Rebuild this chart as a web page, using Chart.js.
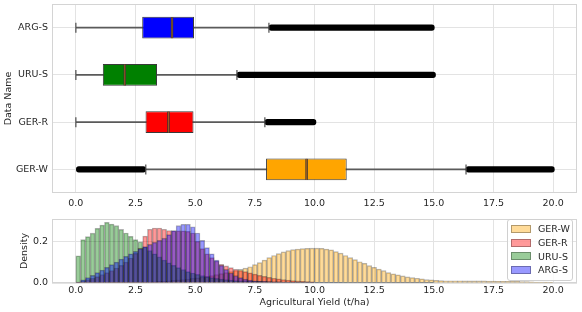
<!DOCTYPE html>
<html lang="en">
<head>
<meta charset="utf-8">
<title>Agricultural yield</title>
<script src="https://cdn.jsdelivr.net/npm/chart.js@4.4.1/dist/chart.umd.min.js"></script>
<style>
  html, body { margin: 0; padding: 0; background: #fff; }
  #wrap { position: relative; width: 582px; height: 312px; }
  #box-chart { position: absolute; left: 0; top: 0; }
  #hist-chart { position: absolute; left: 0; top: 212px; }
  #legend {
    position: absolute; left: 507px; top: 219px; width: 66px; height: 62px;
    border: 1px solid #d0d0d0; border-radius: 3px; background: rgba(255,255,255,0.8);
    font: 9.5px 'DejaVu Sans', sans-serif; color: #262626; padding-top: 2px; box-sizing: border-box;
    white-space: nowrap;
  }
  #legend .item { display: flex; align-items: center; height: 13.7px; }
  #legend .swatch { flex: none; width: 18px; height: 6px; margin: 0 7px 0 3px; border: 1px solid rgba(0,0,0,0.3); }
</style>
</head>
<body>
<div id="wrap">
  <canvas id="box-chart" width="582" height="212"></canvas>
  <canvas id="hist-chart" width="582" height="100"></canvas>
  <div id="legend"></div>
</div>
<script>
"use strict";

// x axis ticks shared by both panels
const xTicks = [0, 2.5, 5, 7.5, 10, 12.5, 15, 17.5, 20];
const densityTicks = [0, 0.2];

// boxplot summary, top to bottom
const names = ['ARG-S', 'URU-S', 'GER-R', 'GER-W'];
const q1 = [2.78, 1.13, 2.92, 7.97];
const median = [4.03, 2.05, 3.88, 9.67];
const q3 = [4.95, 3.40, 4.93, 11.35];
const whiskLo = [0, 0, 0, 2.93];
const whiskHi = [8.09, 6.75, 7.92, 16.35];
const flierLoMin = [null, null, null, 0];
const flierHiMax = [15.02, 15.07, 10.06, 20.05];
const boxColors = ['#0000ff', '#008000', '#ff0000', '#ffa500'];

// histogram densities, bins of 0.2 starting at 0
const binWidth = 0.2;
const gerW = [
  0.003, 0.002, 0.002, 0.002, 0.002, 0.002, 0.002, 0.003, 0.003, 0.003, 0.003, 0.003, 0.004, 0.004, 0.004,
  0.005, 0.006, 0.008, 0.009, 0.011, 0.013, 0.015, 0.017, 0.019, 0.022, 0.025, 0.028, 0.032, 0.036, 0.040,
  0.045, 0.050, 0.055, 0.060, 0.065, 0.071, 0.078, 0.088, 0.098, 0.110,
  0.122, 0.132, 0.141, 0.149, 0.155, 0.160, 0.163, 0.165, 0.166, 0.167,
  0.167, 0.166, 0.163, 0.159, 0.151, 0.143, 0.132, 0.122, 0.112, 0.102,
  0.094, 0.083, 0.075, 0.067, 0.059, 0.050, 0.044, 0.039, 0.034, 0.029,
  0.026, 0.023, 0.020, 0.016, 0.015, 0.013, 0.012, 0.011, 0.011, 0.011,
  0.011, 0.010, 0.010, 0.010, 0.010, 0.010, 0.009, 0.009, 0.008, 0.008,
  0.008, 0.008, 0.008, 0.007, 0.007, 0.006, 0.005, 0.005, 0.004, 0.003
];
const gerR = [
  0.005, 0.010, 0.016, 0.023, 0.031, 0.040, 0.050, 0.060, 0.072, 0.085,
  0.100, 0.120, 0.142, 0.168, 0.225, 0.258, 0.264, 0.264, 0.258, 0.252,
  0.250, 0.250, 0.250, 0.248, 0.240, 0.200, 0.165, 0.140, 0.122, 0.105,
  0.090, 0.082, 0.074, 0.066, 0.060, 0.055, 0.049, 0.043, 0.037, 0.032,
  0.027, 0.023, 0.020, 0.017, 0.014, 0.012, 0.010, 0.008, 0.007, 0.006
];
const uruS = [
  0.130, 0.208, 0.223, 0.239, 0.262, 0.278, 0.291, 0.283, 0.275, 0.257,
  0.240, 0.224, 0.208, 0.197, 0.172, 0.155, 0.140, 0.125, 0.110, 0.097,
  0.085, 0.074, 0.064, 0.055, 0.048, 0.041, 0.035, 0.030, 0.026, 0.022,
  0.019, 0.016, 0.014, 0.012, 0.011, 0.010, 0.009, 0.008, 0.008, 0.007,
  0.007, 0.006, 0.006, 0.005, 0.005, 0.005, 0.004, 0.004, 0.004, 0.004,
  0.003, 0.003, 0.003, 0.003, 0.003, 0.003, 0.003, 0.002, 0.002, 0.002,
  0.002, 0.002, 0.002, 0.002, 0.002, 0.002, 0.002, 0.002, 0.002, 0.002,
  0.002, 0.002, 0.002, 0.002, 0.003
];
const argS = [
  0.005, 0.015, 0.026, 0.037, 0.050, 0.062, 0.075, 0.088, 0.100, 0.115,
  0.128, 0.140, 0.152, 0.165, 0.175, 0.185, 0.195, 0.205, 0.215, 0.232,
  0.252, 0.275, 0.282, 0.282, 0.270, 0.240, 0.205, 0.170, 0.140, 0.110,
  0.085, 0.065, 0.048, 0.035, 0.026, 0.019, 0.014, 0.011, 0.009, 0.008,
  0.007, 0.006, 0.006, 0.005, 0.005, 0.004, 0.004, 0.004, 0.004, 0.003,
  0.003, 0.003, 0.003, 0.003, 0.003, 0.003, 0.002, 0.002, 0.002, 0.002,
  0.002, 0.002, 0.002, 0.002, 0.002, 0.002, 0.002, 0.002, 0.002, 0.002,
  0.002, 0.002, 0.002, 0.002, 0.002
];

// legend order = draw order bottom to top
const histSeries = [
  { label: 'GER-W', values: gerW, color: 'rgba(255,165,0,0.4)' },
  { label: 'GER-R', values: gerR, color: 'rgba(255,0,0,0.4)' },
  { label: 'URU-S', values: uruS, color: 'rgba(0,128,0,0.4)' },
  { label: 'ARG-S', values: argS, color: 'rgba(0,0,255,0.4)' }
];

Chart.defaults.font = { family: "'DejaVu Sans', sans-serif", size: 9.5 };
Chart.defaults.color = '#262626';

const gridColor = '#e3e3e3';

// light frame round the plot area
const frame = {
  id: 'frame',
  beforeDatasetsDraw(chart) {
    const { ctx, chartArea: a } = chart;
    ctx.save();
    ctx.strokeStyle = '#d4d4d4';
    ctx.lineWidth = 1;
    ctx.strokeRect(Math.round(a.left) + 0.5, Math.round(a.top) + 0.5, Math.round(a.width) - 1, Math.round(a.height) - 1);
    ctx.restore();
  }
};

function fixedTicks(list) {
  return scale => { scale.ticks = list.map(v => ({ value: v })); };
}

// y axis: fixed width, no extra room for half labels
function fixedYAxis(width) {
  return s => { s.width = width; s.paddingTop = 0; s.paddingBottom = 0; };
}

// top panel: horizontal boxplots
new Chart(document.getElementById('box-chart'), {
  type: 'bar',
  data: {
    labels: names,
    datasets: [
      {
        type: 'scatter', label: 'caps',
        data: names.flatMap((n, i) => [{ x: whiskLo[i], y: n }, { x: whiskHi[i], y: n }]),
        pointStyle: 'line', rotation: 90, radius: 5, borderColor: '#4d4d4d', borderWidth: 1.2,
        order: 0
      },
      {
        label: 'fliers low',
        data: names.map((n, i) => flierLoMin[i] == null ? null : [flierLoMin[i], whiskLo[i]]),
        backgroundColor: '#000', barThickness: 5.5, borderRadius: 3, borderSkipped: false,
        grouped: false, order: 1
      },
      {
        label: 'fliers high',
        data: names.map((n, i) => [whiskHi[i], flierHiMax[i]]),
        backgroundColor: '#000', barThickness: 5.5, borderRadius: 3, borderSkipped: false,
        grouped: false, order: 1
      },
      {
        type: 'scatter', label: 'median accent',
        data: names.map((n, i) => ({ x: median[i], y: n })),
        pointStyle: 'line', rotation: 90, radius: 10.5, borderColor: 'rgba(255,127,14,0.55)', borderWidth: 1,
        order: 2
      },
      {
        type: 'scatter', label: 'median',
        data: names.map((n, i) => ({ x: median[i], y: n })),
        pointStyle: 'line', rotation: 90, radius: 10.5, borderColor: '#333', borderWidth: 2.4,
        order: 3
      },
      {
        label: 'box',
        data: names.map((n, i) => [q1[i], q3[i]]),
        backgroundColor: boxColors, borderColor: '#3a3a3a', borderWidth: 1, borderSkipped: false,
        barPercentage: 0.46, categoryPercentage: 1, grouped: false, order: 4
      },
      {
        label: 'whisker',
        data: names.map((n, i) => [whiskLo[i], whiskHi[i]]),
        backgroundColor: '#5a5a5a', barThickness: 1.2, grouped: false, order: 5
      }
    ]
  },
  options: {
    indexAxis: 'y',
    responsive: false,
    animation: false,
    events: [],
    layout: { autoPadding: false, padding: { top: 4, right: 5, left: 0, bottom: 0 } },
    plugins: { legend: { display: false }, tooltip: { enabled: false } },
    scales: {
      x: {
        type: 'linear', min: -1, max: 21,
        afterBuildTicks: fixedTicks(xTicks),
        afterFit: s => { s.height = 19; },
        ticks: { callback: v => v.toFixed(1), padding: 5, maxRotation: 0 },
        grid: { color: gridColor, drawTicks: false },
        border: { display: false }
      },
      y: {
        type: 'category',
        afterFit: fixedYAxis(52),
        ticks: { padding: 4 },
        grid: { color: gridColor, drawTicks: false, offset: false },
        border: { display: false },
        title: { display: true, text: 'Data Name', padding: { top: 3, bottom: 0 } }
      }
    }
  },
  plugins: [frame]
});

// bottom panel: overlaid density histograms
new Chart(document.getElementById('hist-chart'), {
  type: 'bar',
  data: {
    datasets: histSeries.map((s, k) => ({
      label: s.label,
      data: s.values.map((v, i) => ({ x: i * binWidth + binWidth / 2, y: v })),
      backgroundColor: s.color,
      borderColor: 'rgba(0,0,0,0.3)',
      borderWidth: 0.8,
      barPercentage: 1,
      categoryPercentage: 1,
      grouped: false,
      order: histSeries.length - k
    }))
  },
  options: {
    responsive: false,
    animation: false,
    events: [],
    layout: { autoPadding: false, padding: { top: 7, right: 5, left: 0, bottom: 0 } },
    plugins: { legend: { display: false }, tooltip: { enabled: false } },
    scales: {
      x: {
        type: 'linear', min: -1, max: 21, offset: false,
        afterBuildTicks: fixedTicks(xTicks),
        afterFit: s => { s.height = 29; },
        ticks: { callback: v => v.toFixed(1), padding: 2, maxRotation: 0 },
        grid: { color: gridColor, drawTicks: false, offset: false },
        border: { display: false },
        title: { display: true, text: 'Agricultural Yield (t/ha)', padding: { top: 4, bottom: 4 } }
      },
      y: {
        min: 0, max: 0.307,
        afterBuildTicks: fixedTicks(densityTicks),
        afterFit: fixedYAxis(52),
        ticks: { callback: v => v.toFixed(1), padding: 4 },
        grid: { color: gridColor, drawTicks: false },
        border: { display: false },
        title: { display: true, text: 'Density', padding: { top: 19, bottom: 0 } }
      }
    }
  },
  plugins: [frame]
});

// legend inside the histogram panel
const legendEl = document.getElementById('legend');
histSeries.forEach(s => {
  const item = document.createElement('div');
  item.className = 'item';
  const sw = document.createElement('span');
  sw.className = 'swatch';
  sw.style.background = s.color;
  const txt = document.createElement('span');
  txt.textContent = s.label;
  item.appendChild(sw);
  item.appendChild(txt);
  legendEl.appendChild(item);
});
</script>
</body>
</html>
